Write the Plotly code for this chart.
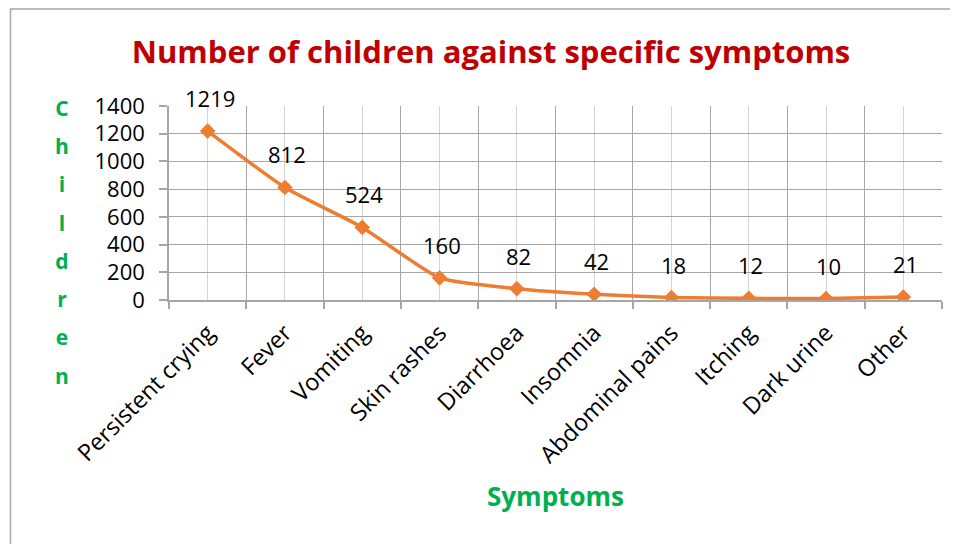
import plotly.graph_objects as go

categories = ["Persistent crying", "Fever", "Vomiting", "Skin rashes", "Diarrhoea",
              "Insomnia", "Abdominal pains", "Itching", "Dark urine", "Other"]
children = [1219, 812, 524, 160, 82, 42, 18, 12, 10, 21]
y_ticks = [0, 200, 400, 600, 800, 1000, 1200, 1400]

FONT = "Open Sans"
idx = list(range(len(categories)))

# page has an 8px body margin; figure coords = page coords - 8
W, H = 950, 536
L, T, PW, PH = 161, 98, 773, 194.3
R = W - L - PW
B = H - T - PH


def px_x(page_x):
    return (page_x - 8 - L) / PW


def px_y(page_y):
    return (T + PH - (page_y - 8)) / PH


fig = go.Figure()
fig.add_trace(go.Scatter(
    x=idx, y=children, mode="lines+markers",
    line=dict(color="#ED7D31", width=3.5, shape="spline", smoothing=0.5),
    marker=dict(symbol="diamond", size=12, color="#ED7D31"),
    hoverinfo="skip", showlegend=False,
))

for xi, v in zip(idx, children):
    fig.add_annotation(x=xi, y=v, text=str(v), showarrow=False, yshift=33, xshift=2,
                       font=dict(family=FONT, size=22, color="black"))

# vertical "Children" title
letters = "<br>".join(f"<span style='font-size:21px'>{c}</span>" for c in "Children")
fig.add_annotation(xref="paper", yref="paper", x=px_x(62), y=px_y(108),
                   text="<b>" + letters + "</b>", showarrow=False, xanchor="center",
                   yanchor="top", yshift=16, align="center",
                   font=dict(family=FONT, size=29.4, color="#00B050"))

# x-axis title
fig.add_annotation(xref="paper", yref="paper", x=0.5, y=px_y(497),
                   text="<b>Symptoms</b>", showarrow=False, xanchor="center",
                   yanchor="middle",
                   font=dict(family=FONT, size=26, color="#00B050"))

fig.add_shape(type="path", xref="paper", yref="paper",
              path=f"M {px_x(10.5)} {px_y(600)} L {px_x(10.5)} {px_y(8.75)} L 1.2 {px_y(8.75)}",
              line=dict(color="#A6A6A6", width=1.5))

fig.update_layout(
    width=W, height=H,
    margin=dict(l=L, r=R, t=T, b=B, autoexpand=False),
    paper_bgcolor="white", plot_bgcolor="white",
    title=dict(text="<b>Number of children against specific symptoms</b>",
               x=483 / W, xanchor="center", y=1 - 44 / H, yanchor="middle",
               font=dict(family=FONT, size=31, color="#C00000")),
    xaxis=dict(
        range=[-0.5, 9.5], tickmode="array", tickvals=idx, ticktext=categories,
        tickangle=-45, ticks="", showgrid=True, gridcolor="#D4D4D4", gridwidth=1,
        tickfont=dict(family=FONT, size=23.5, color="black"),
        ticklabelstandoff=8,
        showline=True, linecolor="#A6A6A6", linewidth=1.5, zeroline=False,
        minor=dict(tickmode="array", tickvals=[i - 0.5 for i in range(len(categories) + 1)],
                   showgrid=True, gridcolor="#A6A6A6", gridwidth=1,
                   ticks="outside", ticklen=7, tickcolor="#A6A6A6", tickwidth=1.5),
        fixedrange=True,
    ),
    yaxis=dict(
        range=[0, 1400], tickmode="array", tickvals=y_ticks,
        ticks="outside", ticklen=8, tickcolor="#A6A6A6", tickwidth=1.5,
        showgrid=True, gridcolor="#A6A6A6", gridwidth=1,
        showline=True, linecolor="#A6A6A6", linewidth=1.5, zeroline=False,
        tickfont=dict(family=FONT, size=22, color="black"),
        ticklabelstandoff=10,
        fixedrange=True,
    ),
)

fig.write_html("out.html")
